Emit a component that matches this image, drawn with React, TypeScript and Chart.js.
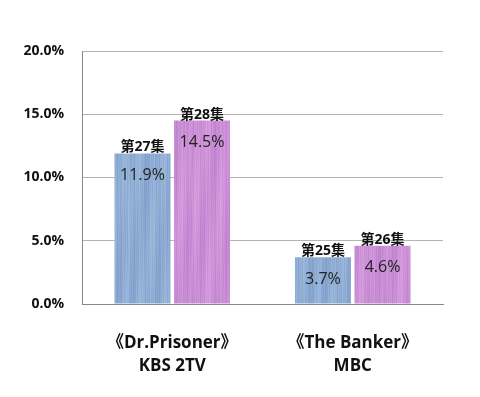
import React, { useEffect, useRef } from "react";
import { Chart, registerables } from "chart.js";

Chart.register(...registerables);

const categories = [["《Dr.Prisoner》", "KBS 2TV"], ["《The Banker》", "MBC"]];
const episodesFirst = ["第27集", "第25集"];
const episodesSecond = ["第28集", "第26集"];
const ratingsFirst = [11.9, 3.7];
const ratingsSecond = [14.5, 4.6];
const yMin = 0;
const yMax = 20;
const yStep = 5;

const FONT = "'Open Sans', 'Noto Sans CJK SC', sans-serif";

function makePattern(r: number, g: number, b: number, seed: number): CanvasPattern | string {
  const W = 64;
  const H = 420;
  const c = document.createElement("canvas");
  c.width = W;
  c.height = H;
  const ctx = c.getContext("2d");
  if (!ctx) return `rgb(${r},${g},${b})`;
  const img = ctx.createImageData(W, H);
  for (let y = 0; y < H; y++) {
    for (let x = 0; x < W; x++) {
      const d =
        Math.sin(x * 1.73 + seed) * 5 +
        Math.sin(x * 0.51 + seed * 2) * 5 +
        Math.sin(x * 3.1 + y * 0.09 + seed) * 4 +
        Math.sin(y * 0.035 + x * 0.25) * 5;
      const i = (y * W + x) * 4;
      img.data[i] = Math.max(0, Math.min(255, r + d));
      img.data[i + 1] = Math.max(0, Math.min(255, g + d));
      img.data[i + 2] = Math.max(0, Math.min(255, b + d * 0.6));
      img.data[i + 3] = 255;
    }
  }
  ctx.putImageData(img, 0, 0);
  const main = document.createElement("canvas").getContext("2d");
  const p = main ? main.createPattern(c, "repeat") : null;
  return p || `rgb(${r},${g},${b})`;
}

const labelPlugin = {
  id: "barLabels",
  afterDatasetsDraw(chart: any) {
    const ctx = chart.ctx;
    const episodeSets = [episodesFirst, episodesSecond];
    chart.data.datasets.forEach((ds: any, di: number) => {
      const meta = chart.getDatasetMeta(di);
      meta.data.forEach((el: any, i: number) => {
        ctx.save();
        ctx.textAlign = "center";
        ctx.textBaseline = "middle";
        ctx.fillStyle = "#111";
        ctx.font = `bold 14px ${FONT}`;
        ctx.fillText(episodeSets[di][i], el.x, el.y - 6);
        ctx.font = `16px ${FONT}`;
        ctx.fillStyle = "#222";
        ctx.fillText(ds.data[i].toFixed(1) + "%", el.x, el.y + 22);
        ctx.restore();
      });
    });
  },
};

export default function App() {
  const ref = useRef<HTMLCanvasElement>(null);
  useEffect(() => {
    if (!ref.current) return;
    const blue = makePattern(143, 172, 212, 1);
    const purple = makePattern(203, 144, 214, 3);
    const chart = new Chart(ref.current, {
      type: "bar",
      data: {
        labels: categories,
        datasets: [
          { data: ratingsFirst, backgroundColor: blue as any, borderWidth: 0 },
          { data: ratingsSecond, backgroundColor: purple as any, borderWidth: 0 },
        ],
      },
      options: {
        responsive: false,
        animation: false,
        events: [],
        datasets: { bar: { categoryPercentage: 0.66, barPercentage: 0.94 } },
        layout: { padding: { left: 0, right: 37, top: 51, bottom: 0 } },
        plugins: { legend: { display: false }, tooltip: { enabled: false } },
        scales: {
          x: {
            grid: { display: false },
            border: { display: true, color: "#888", width: 1 },
            ticks: {
              color: "#111",
              padding: 20,
              font: { family: FONT, size: 17, weight: "bold", lineHeight: 1.35 },
            },
            afterFit: (s: any) => {
              s.height = 93;
            },
          },
          y: {
            min: yMin,
            max: yMax,
            grid: { color: "#b4b4b4", drawTicks: false, lineWidth: 1 },
            border: { display: true, color: "#888", width: 1 },
            ticks: {
              stepSize: yStep,
              padding: 18,
              color: "#111",
              font: { family: FONT, size: 14, weight: "bold" },
              callback: (v: any) => Number(v).toFixed(1) + "%",
            },
            afterFit: (s: any) => {
              s.width = 82;
            },
          },
        },
      },
      plugins: [labelPlugin],
    });
    return () => chart.destroy();
  }, []);
  return (
    <div style={{ position: "fixed", left: 0, top: 0, width: 480, height: 397, background: "#fff" }}>
      <canvas ref={ref} width={480} height={397} style={{ display: "block" }} />
    </div>
  );
}
